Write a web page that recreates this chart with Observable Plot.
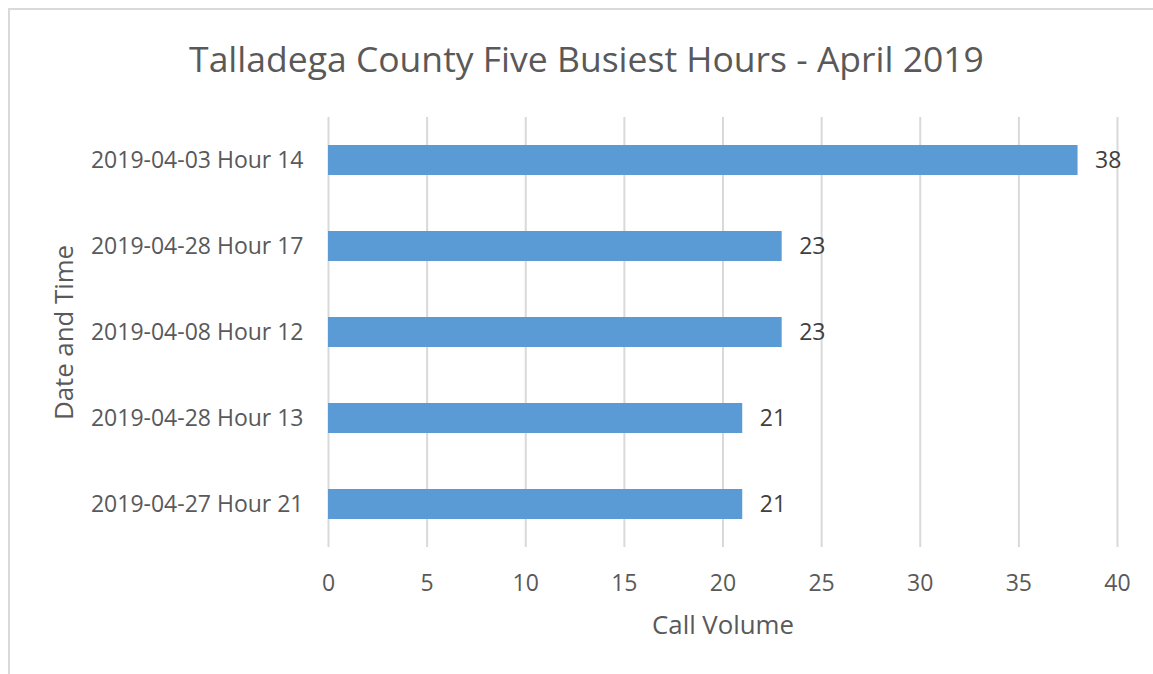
<!DOCTYPE html>
<html>
<head>
<meta charset="utf-8">
<script src="https://cdn.jsdelivr.net/npm/d3@7"></script>
<script src="https://cdn.jsdelivr.net/npm/@observablehq/plot@0.6"></script>
<style>
  html, body { margin: 0; padding: 0; background: #fff; }
  #wrap { position: relative; width: 1153px; height: 674px; overflow: hidden; font-family: "Open Sans", sans-serif; }
  #frame { position: absolute; left: 8px; top: 8px; width: 1160px; height: 680px; border-left: 2px solid #d9d9d9; border-top: 2px solid #d9d9d9; box-sizing: border-box; }
  #title { height: 100px; line-height: 116px; text-align: center; font-size: 35.5px; color: #595959; padding-left: 20px; box-sizing: border-box; white-space: nowrap; }
  #chart svg { display: block; }
</style>
</head>
<body>
<div id="wrap">
  <div id="frame"></div>
  <div id="title">Talladega County Five Busiest Hours - April 2019</div>
  <div id="chart"></div>
</div>
<script>
const categories = ["2019-04-03 Hour 14", "2019-04-28 Hour 17", "2019-04-08 Hour 12", "2019-04-28 Hour 13", "2019-04-27 Hour 21"];
const callVolume = [38, 23, 23, 21, 21];
const xTicks = [0, 5, 10, 15, 20, 25, 30, 35, 40];
const xLabel = "Call Volume";
const yLabel = "Date and Time";

const data = categories.map((c, i) => ({category: c, value: callVolume[i]}));

const chart = Plot.plot({
  width: 1153,
  height: 574,
  marginLeft: 328,
  marginRight: 36,
  marginTop: 17,
  marginBottom: 127,
  style: {fontFamily: "Open Sans, sans-serif", fontSize: "23px", color: "#595959", background: "transparent", overflow: "visible"},
  x: {domain: [0, 40], label: null},
  y: {domain: categories, paddingInner: 0.65, paddingOuter: 0.325, label: null},
  marks: [
    Plot.gridX(xTicks, {stroke: "#d9d9d9", strokeOpacity: 1, strokeWidth: 2}),
    Plot.barX(data, {x: "value", y: "category", fill: "#5b9bd5"}),
    Plot.text(data, {x: "value", y: "category", text: d => String(d.value), dx: 17, textAnchor: "start", fill: "#404040", fontSize: 23}),
    Plot.axisX(xTicks, {tickSize: 0, tickPadding: 27, label: null, fill: "#595959", fontSize: 23}),
    Plot.axisY({tickSize: 0, tickPadding: 25, label: null, fill: "#595959", fontSize: 23}),
    Plot.text([xLabel], {frameAnchor: "bottom", dy: 78, textAnchor: "middle", lineAnchor: "middle", text: d => d, fill: "#595959", fontSize: 25.8}),
    Plot.text([yLabel], {frameAnchor: "left", dx: -264, rotate: -90, textAnchor: "middle", lineAnchor: "middle", text: d => d, fill: "#595959", fontSize: 25.8})
  ]
});
document.getElementById("chart").appendChild(chart);
</script>
</body>
</html>
